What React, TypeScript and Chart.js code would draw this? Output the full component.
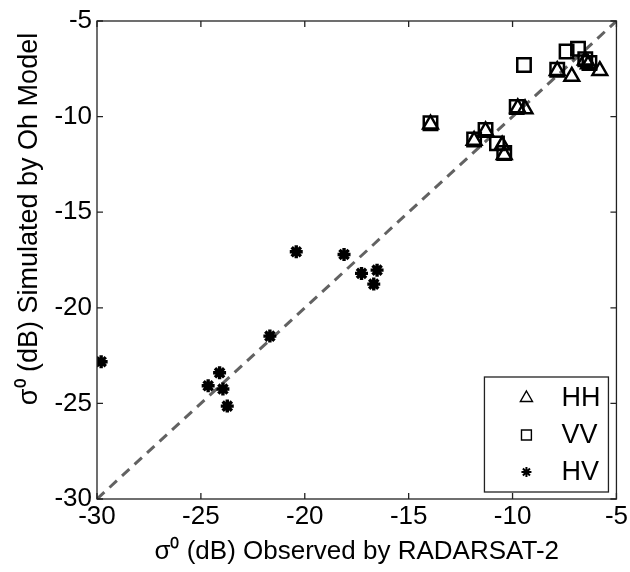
import React, { useEffect, useRef } from "react";
import { Chart, registerables } from "chart.js";

Chart.register(...registerables);

const tickValues = [-30, -25, -20, -15, -10, -5];

const hhX = [-5.8, -7.15, -6.5, -6.35, -9.4, -10.5, -10.4, -13.95, -11.85, -11.3, -7.85, -9.75];
const hhY = [-7.6, -7.9, -7.05, -7.25, -9.6, -11.5, -12.0, -10.4, -11.25, -10.75, -7.6, -9.55];

const vvX = [-9.45, -7.4, -6.85, -7.85, -9.8, -13.95, -11.85, -11.3, -10.75, -10.4, -6.5, -6.3];
const vvY = [-7.3, -6.6, -6.45, -7.55, -9.5, -10.35, -11.2, -10.7, -11.4, -11.9, -7.0, -7.2];

const hvX = [-29.8, -24.65, -24.1, -23.94, -23.73, -21.68, -20.41, -18.11, -17.27, -16.52, -16.68];
const hvY = [-22.82, -24.08, -23.4, -24.25, -25.14, -21.48, -17.07, -17.21, -18.2, -18.03, -18.76];

const lineX = [-30, -5];
const lineY = [-30, -5];

const seriesLabels = ["HH", "VV", "HV"];
const xTitle = "σ⁰ (dB) Observed by RADARSAT-2";
const yTitle = "σ⁰ (dB) Simulated by Oh Model";

const FONT = "'Liberation Sans', Arial, sans-serif";
const FS = 26;

function toPoints(xs: number[], ys: number[]) {
  return xs.map((x, i) => ({ x, y: ys[i] }));
}

function drawMarker(ctx: CanvasRenderingContext2D, style: string, x: number, y: number, r: number) {
  ctx.beginPath();
  if (style === "triangle") {
    const w = r * Math.sqrt(3) / 2;
    ctx.moveTo(x, y - r);
    ctx.lineTo(x + w, y + r / 2);
    ctx.lineTo(x - w, y + r / 2);
    ctx.closePath();
  } else if (style === "rect") {
    const s = r * Math.SQRT1_2;
    ctx.rect(x - s, y - s, 2 * s, 2 * s);
  } else {
    for (let k = 0; k < 4; k++) {
      const a = (k * Math.PI) / 4;
      ctx.moveTo(x + Math.cos(a) * r, y + Math.sin(a) * r);
      ctx.lineTo(x - Math.cos(a) * r, y - Math.sin(a) * r);
    }
  }
  ctx.stroke();
}

const framePlugin = {
  id: "frame",
  afterDraw(chart: any) {
    const { ctx, chartArea } = chart;
    const xs = chart.scales.x;
    const ys = chart.scales.y;
    ctx.save();
    ctx.strokeStyle = "#222";
    ctx.lineWidth = 1.3;
    ctx.strokeRect(chartArea.left, chartArea.top, chartArea.right - chartArea.left, chartArea.bottom - chartArea.top);
    const tl = 6;
    ctx.beginPath();
    xs.ticks.forEach((t: any) => {
      const px = xs.getPixelForValue(t.value);
      ctx.moveTo(px, chartArea.bottom);
      ctx.lineTo(px, chartArea.bottom - tl);
      ctx.moveTo(px, chartArea.top);
      ctx.lineTo(px, chartArea.top + tl);
    });
    ys.ticks.forEach((t: any) => {
      const py = ys.getPixelForValue(t.value);
      ctx.moveTo(chartArea.left, py);
      ctx.lineTo(chartArea.left + tl, py);
      ctx.moveTo(chartArea.right, py);
      ctx.lineTo(chartArea.right - tl, py);
    });
    ctx.stroke();

    // y axis title (placed like the original, slightly above the axis centre)
    ctx.save();
    ctx.translate(30, (chartArea.top + chartArea.bottom) / 2 - 41);
    ctx.rotate(-Math.PI / 2);
    ctx.font = `${FS + 1}px ${FONT}`;
    ctx.fillStyle = "#000";
    ctx.textAlign = "center";
    ctx.textBaseline = "middle";
    ctx.fillText(yTitle, 0, 0);
    ctx.restore();

    // legend box in lower right corner of plot area
    const bw = 124;
    const bh = 115;
    const bx = chartArea.right - 8 - bw;
    const by = chartArea.bottom - 7 - bh;
    ctx.fillStyle = "#fff";
    ctx.fillRect(bx, by, bw, bh);
    ctx.lineWidth = 1.3;
    ctx.strokeStyle = "#222";
    ctx.strokeRect(bx, by, bw, bh);
    const styles = ["triangle", "rect", "star"];
    const radii = [7, 7, 5];
    ctx.font = `${FS + 1}px ${FONT}`;
    ctx.textBaseline = "middle";
    ctx.textAlign = "left";
    seriesLabels.forEach((lab, i) => {
      const cy = by + 21 + i * 37;
      ctx.strokeStyle = "#000";
      ctx.lineWidth = i === 2 ? 2 : 1.4;
      drawMarker(ctx, styles[i], bx + 42, cy, radii[i]);
      ctx.fillStyle = "#000";
      ctx.fillText(lab, bx + 77, cy + 1);
    });
    ctx.restore();
  },
};

export default function App() {
  const ref = useRef<HTMLCanvasElement | null>(null);
  useEffect(() => {
    document.body.style.margin = "0";
    const canvas = ref.current;
    if (!canvas) return;
    const chart = new Chart(canvas, {
      type: "scatter",
      data: {
        datasets: [
          {
            label: seriesLabels[0],
            data: toPoints(hhX, hhY),
            pointStyle: "triangle",
            pointRadius: 8.5,
            pointBorderWidth: 2.5,
            borderColor: "#000",
            backgroundColor: "rgba(0,0,0,0)",
          },
          {
            label: seriesLabels[1],
            data: toPoints(vvX, vvY),
            pointStyle: "rect",
            pointRadius: 9.5,
            pointBorderWidth: 2.5,
            borderColor: "#000",
            backgroundColor: "rgba(0,0,0,0)",
          },
          {
            label: seriesLabels[2],
            data: toPoints(hvX, hvY),
            pointStyle: "star",
            pointRadius: 6.5,
            pointBorderWidth: 3.4,
            borderColor: "#000",
            backgroundColor: "#000",
          },
          {
            type: "line",
            label: "1:1",
            data: toPoints(lineX, lineY),
            borderColor: "#626262",
            borderWidth: 3,
            borderDash: [10, 7],
            pointRadius: 0,
            fill: false,
          } as any,
        ],
      },
      options: {
        animation: false,
        responsive: false,
        maintainAspectRatio: false,
        layout: { padding: { top: 21, right: 8, left: 0, bottom: 0 } },
        plugins: {
          legend: { display: false },
          tooltip: { enabled: false },
        },
        scales: {
          x: {
            type: "linear",
            min: -30,
            max: -5,
            afterBuildTicks: (s: any) => {
              s.ticks = tickValues.map((v) => ({ value: v }));
            },
            afterFit: (s: any) => {
              s.height = 73;
            },
            grid: { display: false, drawTicks: false },
            border: { display: false },
            ticks: {
              padding: 2,
              color: "#000",
              font: { family: FONT, size: FS },
              maxRotation: 0,
              autoSkip: false,
            },
            title: {
              display: true,
              text: xTitle,
              color: "#000",
              font: { family: FONT, size: FS },
              padding: { top: 0, bottom: 5 },
            },
          },
          y: {
            type: "linear",
            min: -30,
            max: -5,
            afterBuildTicks: (s: any) => {
              s.ticks = tickValues.map((v) => ({ value: v }));
            },
            afterFit: (s: any) => {
              s.width = 97;
            },
            grid: { display: false, drawTicks: false },
            border: { display: false },
            ticks: {
              padding: 5,
              color: "#000",
              font: { family: FONT, size: FS },
              autoSkip: false,
            },
            title: { display: false },
          },
        },
      },
      plugins: [framePlugin],
    });
    return () => chart.destroy();
  }, []);
  return (
    <div style={{ width: 630, height: 572 }}>
      <canvas ref={ref} width={630} height={572} style={{ display: "block" }} />
    </div>
  );
}
